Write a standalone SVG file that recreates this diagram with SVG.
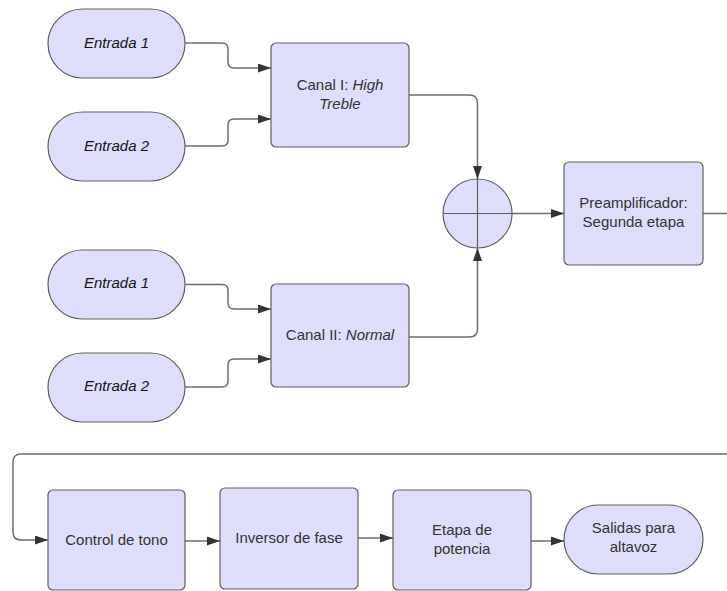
<svg xmlns="http://www.w3.org/2000/svg" width="727" height="591" viewBox="0 0 727 591">
<defs>
<marker id="arr" markerUnits="userSpaceOnUse" markerWidth="14" markerHeight="10" refX="13" refY="4.5" orient="auto">
<path d="M0,0 L13,4.5 L0,9 z" fill="#333333"/>
</marker>
<style>
.n{fill:#DEDEFA;stroke:#5f5f5f;stroke-width:1.2}
.t{font-family:"Liberation Sans",Arial,sans-serif;font-size:15px;fill:#333333;text-anchor:middle}
.i{font-style:italic}
.e{fill:#151515}
.c{fill:none;stroke:#6e6e6e;stroke-width:1.5}
.a{marker-end:url(#arr)}
</style>
</defs>
<rect width="727" height="591" fill="#ffffff"/>
<g id="connectors">
<path class="c a" d="M185,43 H222 Q228,43 228,49 V62 Q228,68 234,68 H271"/>
<path class="c a" d="M185,146 H222 Q228,146 228,140 V125 Q228,119 234,119 H271"/>
<path class="c a" d="M185,284.5 H222 Q228,284.5 228,290.5 V303 Q228,309 234,309 H271"/>
<path class="c a" d="M185,387 H222 Q228,387 228,381 V365 Q228,359 234,359 H271"/>
<path class="c a" d="M409,95 H469.5 Q477.5,95 477.5,103 V179"/>
<path class="c a" d="M409,337 H469.5 Q477.5,337 477.5,329 V248"/>
<path class="c a" d="M512,213.5 H564"/>
<path class="c" d="M703,213.5 H727"/>
<path class="c a" d="M727,454 H21 Q13,454 13,462 V532 Q13,540 21,540 H48"/>
<path class="c a" d="M185,541 H220"/>
<path class="c a" d="M358,538 H393"/>
<path class="c a" d="M531,541 H564"/>
</g>
<g id="entrada1a">
<rect class="n" x="48" y="9" width="137" height="69" rx="34.5"/>
<text class="t i e" x="116.5" y="47.5">Entrada 1</text>
</g>
<g id="entrada2a">
<rect class="n" x="48" y="112" width="137" height="69" rx="34.5"/>
<text class="t i e" x="116.5" y="150.5">Entrada 2</text>
</g>
<g id="canal1">
<rect class="n" x="271" y="43" width="138" height="104" rx="5"/>
<text class="t" x="340" y="89.5">Canal I: <tspan class="i">High</tspan></text>
<text class="t i" x="340" y="108.5">Treble</text>
</g>
<g id="entrada1b">
<rect class="n" x="48" y="250" width="137" height="69" rx="34.5"/>
<text class="t i e" x="116.5" y="288">Entrada 1</text>
</g>
<g id="entrada2b">
<rect class="n" x="48" y="353" width="137" height="69" rx="34.5"/>
<text class="t i e" x="116.5" y="391">Entrada 2</text>
</g>
<g id="canal2">
<rect class="n" x="271" y="284" width="138" height="103" rx="5"/>
<text class="t" x="340" y="340">Canal II: <tspan class="i">Normal</tspan></text>
</g>
<g id="sum">
<circle class="n" cx="477.5" cy="213.5" r="34.5"/>
<path d="M443,213.5 H512 M477.5,179 V248" stroke="#5f5f5f" stroke-width="1.2"/>
</g>
<g id="preamp">
<rect class="n" x="564" y="162" width="139" height="103" rx="5"/>
<text class="t" x="633.5" y="208">Preamplificador:</text>
<text class="t" x="633.5" y="226.5">Segunda etapa</text>
</g>
<g id="tono">
<rect class="n" x="48" y="490" width="137" height="100" rx="5"/>
<text class="t" x="116.5" y="545">Control de tono</text>
</g>
<g id="inversor">
<rect class="n" x="220" y="488" width="138" height="101" rx="5"/>
<text class="t" x="289" y="542.5">Inversor de fase</text>
</g>
<g id="etapa">
<rect class="n" x="393" y="490" width="138" height="100" rx="5"/>
<text class="t" x="462" y="535">Etapa de</text>
<text class="t" x="462" y="553.5">potencia</text>
</g>
<g id="salidas">
<rect class="n" x="564" y="505" width="139" height="69" rx="34.5"/>
<text class="t" x="633.5" y="533">Salidas para</text>
<text class="t" x="633.5" y="551.5">altavoz</text>
</g>
</svg>
